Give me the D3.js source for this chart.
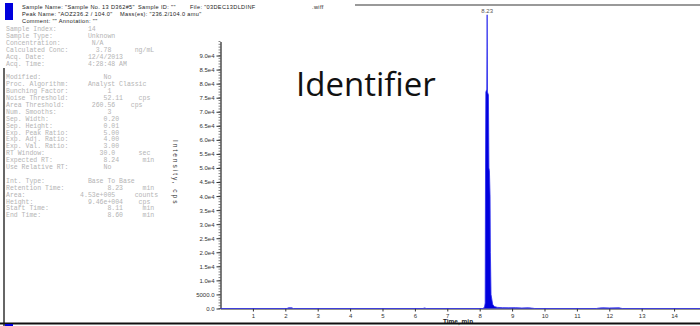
<!DOCTYPE html>
<html>
<head>
<meta charset="utf-8">
<script src="https://cdn.jsdelivr.net/npm/d3@7"></script>
<style>
  html, body { margin: 0; padding: 0; background: #fff; }
  svg { display: block; }
</style>
</head>
<body>
<div id="chart"></div>
<script>
// header lines (dark) and the grey results panel
const headerLines = [
  ['Sample Name: "Sample No. 13 D362#5"', 'Sample ID: ""', 'File: "03DEC13DLDINF', '.wiff'],
  ['Peak Name: "AOZ236.2 / 104.0"', 'Mass(es): "236.2/104.0 amu"'],
  ['Comment: ""   Annotation: ""']
];
const infoLines = [
  'Sample Index:        14',
  'Sample Type:         Unknown',
  'Concentration:        N/A',
  'Calculated Conc:       3.78      ng/mL',
  'Acq. Date:           12/4/2013',
  'Acq. Time:           4:28:48 AM',
  '',
  'Modified:                No',
  'Proc. Algorithm:     Analyst Classic',
  'Bunching Factor:          1',
  'Noise Threshold:         52.11    cps',
  'Area Threshold:       260.56    cps',
  'Num. Smooths:             3',
  'Sep. Width:              0.20',
  'Sep. Height:             0.01',
  'Exp. Peak Ratio:         5.00',
  'Exp. Adj. Ratio:         4.00',
  'Exp. Val. Ratio:         3.00',
  'RT Window:              30.0      sec',
  'Expected RT:             8.24      min',
  'Use Relative RT:         No',
  '',
  'Int. Type:           Base To Base',
  'Retention Time:           8.23     min',
  'Area:              4.53e+005     counts',
  'Height:              9.46e+004    cps',
  'Start Time:               8.11     min',
  'End Time:                 8.60     min'
];

// chromatogram (time in min, intensity in cps)
const rtMin = [0, 2.05, 2.1, 2.2, 2.25, 6.25, 6.3, 6.35,
  8.10, 8.15, 8.17, 8.18, 8.19, 8.22, 8.23, 8.24, 8.27, 8.285, 8.30, 8.32, 8.33, 8.35, 8.40, 8.45,
  8.55, 8.7, 8.9, 9.1, 9.3, 9.5, 9.6, 9.7, 11.6, 11.7, 11.8, 12.0, 12.3, 12.4, 14.8];
const cps = [0, 0, 250, 250, 0, 0, 200, 0,
  0, 500, 2000, 50000, 77000, 78000, 104500, 77000, 76000, 50000, 49000, 40000, 20000, 5000, 1500, 700,
  400, 300, 250, 300, 200, 250, 150, 0, 0, 200, 250, 200, 250, 0, 0];
const yTicks = d3.range(0, 90001, 5000);
const xTicks = d3.range(1, 15);
const apexRt = 8.23;

const width = 700, height = 326;
const svg = d3.select('#chart').append('svg')
  .attr('width', width).attr('height', height);

// header
svg.append('rect').attr('x', 5).attr('y', 3).attr('width', 8).attr('height', 17).attr('fill', '#0000dd');
const hx = [[22, 138, 190, 312], [22, 120], [22]];
headerLines.forEach((parts, i) => {
  parts.forEach((s, j) => {
    svg.append('text').attr('x', hx[i][j]).attr('y', 9 + i * 7)
      .attr('font-family', 'Liberation Sans, Arial, sans-serif')
      .attr('font-size', 5.6).attr('letter-spacing', 0.35)
      .attr('fill', '#222').text(s);
  });
});
svg.append('line').attr('x1', 355).attr('x2', 700).attr('y1', 5).attr('y2', 5)
  .attr('stroke', '#999').attr('stroke-width', 2);

// grey results panel
svg.append('g').selectAll('text').data(infoLines).join('text')
  .attr('x', 6).attr('y', (d, i) => 31 + i * 6.9)
  .attr('font-family', 'Liberation Mono, DejaVu Sans Mono, monospace')
  .attr('font-size', 6.5).attr('fill', '#b4b4b4')
  .attr('xml:space', 'preserve').style('white-space', 'pre')
  .text(d => d);

svg.append('line').attr('x1', 4).attr('x2', 4).attr('y1', 68).attr('y2', 326)
  .attr('stroke', '#333').attr('stroke-width', 1.5);

// chart
const x = d3.scaleLinear().domain([0, 14.8]).range([220.5, 700]);
const y = d3.scaleLinear().domain([0, 95000]).range([308.5, 41.5]);

const minorY = svg.append('g').attr('transform', 'translate(220.5,0)');
minorY.selectAll('line').data(d3.range(0, 95001, 1000)).join('line')
  .attr('x1', 0).attr('x2', -2).attr('y1', d => y(d)).attr('y2', d => y(d))
  .attr('stroke', '#333').attr('stroke-width', 0.6);

const yAxis = svg.append('g').attr('transform', 'translate(220.5,0)')
  .call(d3.axisLeft(y).tickValues(yTicks).tickSize(4).tickSizeOuter(0)
    .tickFormat(d => d === 0 ? '0.0' : d === 5000 ? '5000.0' : (d / 1e4).toFixed(1) + 'e4'));
yAxis.selectAll('text').attr('font-family', 'Liberation Sans, Arial, sans-serif')
  .attr('font-size', 6).attr('fill', '#333').attr('x', -6);
yAxis.selectAll('line').attr('stroke', '#333');
yAxis.select('.domain').attr('stroke', '#222').attr('stroke-width', 1.2);

const xAxis = svg.append('g').attr('transform', 'translate(0,308.5)')
  .call(d3.axisBottom(x).tickValues(xTicks).tickSize(3).tickSizeOuter(0).tickFormat(d3.format('d')));
xAxis.selectAll('text').attr('font-family', 'Liberation Sans, Arial, sans-serif')
  .attr('font-size', 6).attr('fill', '#333').attr('dy', '0.5em');
xAxis.selectAll('line').attr('stroke', '#333');
xAxis.select('.domain').attr('stroke', '#222').attr('stroke-width', 1.2);

svg.append('text').attr('x', 173).attr('y', 140).attr('transform', 'rotate(90,173,140)')
  .attr('font-family', 'Liberation Sans, Arial, sans-serif').attr('font-size', 6.5)
  .attr('letter-spacing', 2).attr('fill', '#333').text('Intensity, cps');

svg.append('text').attr('x', 458).attr('y', 324).attr('text-anchor', 'middle')
  .attr('font-family', 'Liberation Sans, Arial, sans-serif').attr('font-size', 6.5)
  .attr('font-weight', 'bold').attr('fill', '#222').text('Time, min');

const pts = rtMin.map((t, i) => [t, cps[i]]);
svg.append('path').datum(pts)
  .attr('d', d3.area().x(d => x(d[0])).y0(y(0)).y1(d => y(d[1])))
  .attr('fill', '#0000dd');
svg.append('path').datum(pts)
  .attr('d', d3.line().x(d => x(d[0])).y(d => y(d[1])))
  .attr('fill', 'none').attr('stroke', '#2a2aee').attr('stroke-width', 0.8);

svg.append('text').attr('x', x(apexRt)).attr('y', 13).attr('text-anchor', 'middle')
  .attr('font-family', 'Liberation Sans, Arial, sans-serif').attr('font-size', 6)
  .attr('fill', '#555').text(apexRt.toFixed(2));

// overlay caption
svg.append('text').attr('x', 296).attr('y', 96)
  .attr('font-family', 'Open Sans, Liberation Sans, sans-serif').attr('font-size', 33)
  .attr('fill', '#111').text('Identifier');

// bottom border of the page
svg.append('line').attr('x1', 0).attr('x2', 700).attr('y1', 323.5).attr('y2', 323.5)
  .attr('stroke', '#111').attr('stroke-width', 2);
svg.append('rect').attr('x', 5).attr('y', 324).attr('width', 8).attr('height', 2).attr('fill', '#0000dd');
</script>
</body>
</html>
